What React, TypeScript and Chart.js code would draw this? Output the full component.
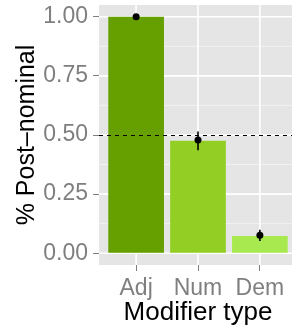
import React, { useEffect, useRef } from "react";
import { Chart, registerables } from "chart.js";

Chart.register(...registerables);

const categories = ["Adj", "Num", "Dem"];
const means = [1.0, 0.476, 0.073];
const points = [1.0, 0.479, 0.076];
const lower = [0.995, 0.435, 0.052];
const upper = [1.0, 0.515, 0.099];
const barColors = ["#66A000", "#92CE24", "#A9E950"];
const yTicks = [0, 0.25, 0.5, 0.75, 1.0];
const yMinor = [0.125, 0.375, 0.625, 0.875];
const refLine = 0.5;

const panelPlugin = {
  id: "panel",
  beforeDatasetsDraw(chart: any) {
    const { ctx, chartArea: a, scales } = chart;
    const ys = scales.y;
    const xs = scales.x;
    ctx.save();
    ctx.fillStyle = "#E5E5E5";
    ctx.fillRect(a.left, a.top, a.right - a.left, a.bottom - a.top);
    ctx.strokeStyle = "#F2F2F2";
    ctx.lineWidth = 1;
    for (const v of yMinor) {
      const p = ys.getPixelForValue(v);
      ctx.beginPath();
      ctx.moveTo(a.left, p);
      ctx.lineTo(a.right, p);
      ctx.stroke();
    }
    ctx.strokeStyle = "#FFFFFF";
    ctx.lineWidth = 1.6;
    for (const v of yTicks) {
      const p = ys.getPixelForValue(v);
      ctx.beginPath();
      ctx.moveTo(a.left, p);
      ctx.lineTo(a.right, p);
      ctx.stroke();
    }
    categories.forEach((_, i) => {
      const p = xs.getPixelForValue(i + 1);
      ctx.beginPath();
      ctx.moveTo(p, a.top);
      ctx.lineTo(p, a.bottom);
      ctx.stroke();
    });
    ctx.restore();
  },
  afterDatasetDraw(chart: any, args: any) {
    if (args.index !== 0) return;
    const { ctx, chartArea: a, scales } = chart;
    const ys = scales.y;
    const xs = scales.x;
    ctx.save();
    ctx.strokeStyle = "#000";
    ctx.lineWidth = 1;
    ctx.setLineDash([4, 4]);
    const py = Math.round(ys.getPixelForValue(refLine)) + 0.5;
    ctx.beginPath();
    ctx.moveTo(a.left, py);
    ctx.lineTo(a.right, py);
    ctx.stroke();
    ctx.setLineDash([]);
    ctx.lineWidth = 1.6;
    categories.forEach((_, i) => {
      const px = xs.getPixelForValue(i + 1);
      ctx.beginPath();
      ctx.moveTo(px, ys.getPixelForValue(lower[i]));
      ctx.lineTo(px, ys.getPixelForValue(upper[i]));
      ctx.stroke();
    });
    ctx.restore();
  },
};

export default function App() {
  const ref = useRef<HTMLCanvasElement>(null);
  useEffect(() => {
    document.body.style.margin = "0";
    Chart.defaults.font.family = "'Liberation Sans', Arial, sans-serif";
    const chart = new Chart(ref.current!, {
      type: "bar",
      data: {
        datasets: [
          {
            type: "bar",
            data: categories.map((_, i) => ({ x: i + 1, y: means[i] })),
            backgroundColor: barColors,
            categoryPercentage: 0.9,
            barPercentage: 1,
            order: 2,
          } as any,
          {
            type: "line",
            data: categories.map((_, i) => ({ x: i + 1, y: points[i] })),
            showLine: false,
            pointRadius: 3.5,
            pointBackgroundColor: "#000",
            pointBorderWidth: 0,
            order: 1,
          } as any,
        ],
      },
      options: {
        responsive: false,
        animation: false,
        layout: { padding: { top: 5, right: 0, left: 0, bottom: 0 } },
        plugins: { legend: { display: false }, tooltip: { enabled: false } },
        scales: {
          x: {
            type: "linear",
            offset: false,
            min: 0.4,
            max: 3.6,
            afterBuildTicks: (s: any) => {
              s.ticks = categories.map((_, i) => ({ value: i + 1 }));
            },
            afterFit: (s: any) => {
              s.height = 61;
              s.paddingLeft = 0;
              s.paddingRight = 0;
            },
            ticks: {
              callback: (v: any) => categories[Math.round(v) - 1] ?? "",
              color: "#7F7F7F",
              font: { size: 23 },
              padding: 4,
              maxRotation: 0,
              autoSkip: false,
            },
            grid: { drawOnChartArea: false, drawTicks: true, tickLength: 6, color: "#7F7F7F", lineWidth: 1, offset: false },
            border: { display: false },
            title: {
              display: true,
              text: "Modifier type",
              color: "#000",
              font: { size: 26, lineHeight: 1.0 },
              padding: { top: 0, bottom: 0 },
            },
          },
          y: {
            type: "linear",
            min: -0.05,
            max: 1.05,
            afterBuildTicks: (s: any) => {
              s.ticks = yTicks.map((v) => ({ value: v }));
            },
            afterFit: (s: any) => {
              s.width = 99;
              s.paddingTop = 0;
              s.paddingBottom = 0;
            },
            ticks: {
              callback: (v: any) => Number(v).toFixed(2),
              color: "#7F7F7F",
              font: { size: 23 },
              padding: 5,
            },
            grid: { drawOnChartArea: false, drawTicks: true, tickLength: 6, color: "#7F7F7F", lineWidth: 1 },
            border: { display: false },
            title: {
              display: true,
              text: "% Post\u2013nominal",
              color: "#000",
              font: { size: 25 },
              padding: { top: 12, bottom: 0 },
            },
          },
        },
      },
      plugins: [panelPlugin],
    });
    return () => chart.destroy();
  }, []);
  return (
    <div style={{ width: 292, height: 326, overflow: "hidden" }}>
      <canvas ref={ref} width={301} height={326} style={{ display: "block" }} />
    </div>
  );
}
